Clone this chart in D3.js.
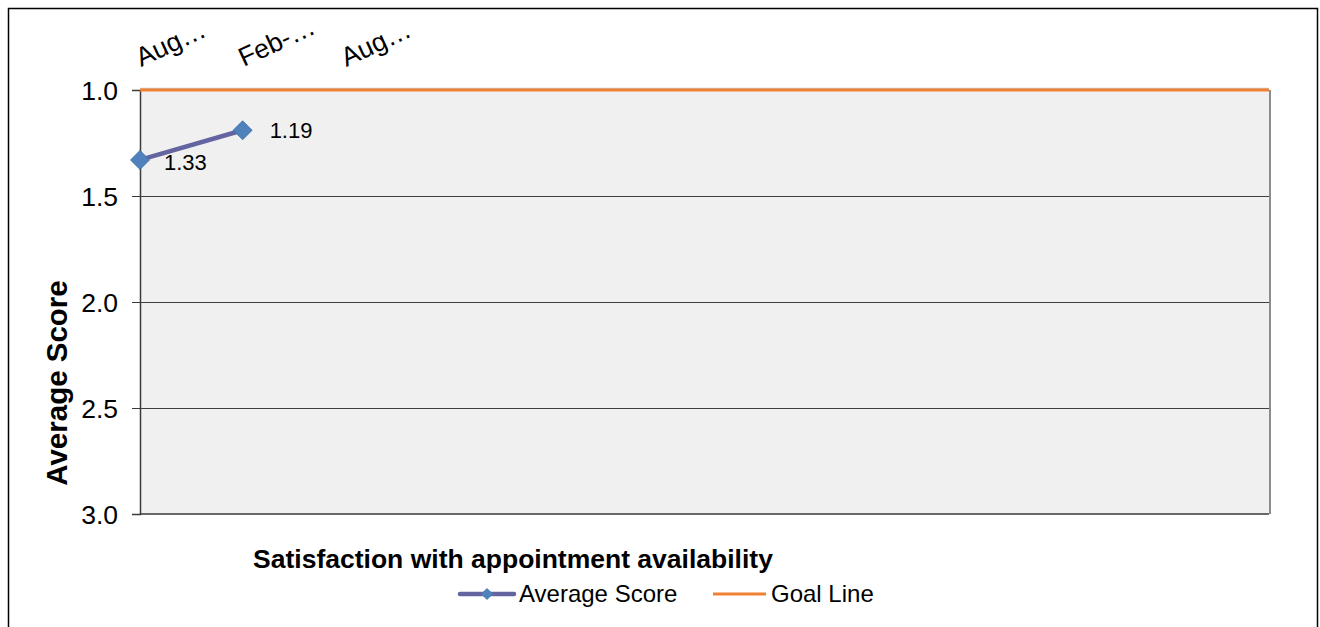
<!DOCTYPE html>
<html><head><meta charset="utf-8">
<script src="https://cdn.jsdelivr.net/npm/d3@7"></script>
<style>body{margin:0;background:#fff;font-family:"Liberation Sans",Arial,sans-serif}</style>
</head><body>
<svg id="c" width="1320" height="627" font-family="Liberation Sans, Arial, sans-serif"></svg>
<script>
const categories = ["Aug-2012","Feb-2013","Aug-2013","","","","","","","","",""];
const tickLabels = ["Aug…","Feb-…","Aug…","","","","","","","","",""];
const avgScore = [1.33, 1.19];
const goalLine = [1,1,1,1,1,1,1,1,1,1,1,1];
const yTicks = [1.0, 1.5, 2.0, 2.5, 3.0];

const svg = d3.select("#c");
svg.append("rect").attr("x",8.5).attr("y",8.5).attr("width",1309).attr("height",630)
  .attr("fill","#fff").attr("stroke","#000").attr("stroke-width",1.5);

const L=140, R=1269, T=90, B=514;
const x = d3.scalePoint().domain(d3.range(categories.length)).range([L,R]);
const y = d3.scaleLinear().domain([1,3]).range([T,B]);

svg.append("rect").attr("x",L).attr("y",T).attr("width",R-L).attr("height",B-T).attr("fill","#f0f0f0");
// right shadow
svg.append("line").attr("x1",R+1).attr("x2",R+1).attr("y1",T).attr("y2",B).attr("stroke","#8c8c8c").attr("stroke-width",2);
// gridlines
svg.append("g").selectAll("line").data(yTicks.slice(1,4)).join("line")
  .attr("x1",L).attr("x2",R).attr("y1",d=>y(d)+0.5).attr("y2",d=>y(d)+0.5).attr("stroke","#404040").attr("stroke-width",1);

// y axis
const yAxis = d3.axisLeft(y).tickValues(yTicks).tickFormat(d3.format(".1f")).tickSize(8).tickPadding(14);
const gy = svg.append("g").attr("transform",`translate(${L},0)`).call(yAxis);
gy.attr("font-family",null).attr("font-size",null);
gy.select(".domain").attr("stroke","#3a3a3a").attr("stroke-width",1.5);
gy.selectAll(".tick line").attr("stroke","#3a3a3a");
gy.selectAll("text").attr("font-size",26.5).attr("fill","#000").attr("dy","0.36em");
// bottom axis line
svg.append("line").attr("x1",L).attr("x2",R).attr("y1",B).attr("y2",B).attr("stroke","#3a3a3a").attr("stroke-width",1.5);

// top category labels
svg.append("g").selectAll("text").data(tickLabels).join("text")
  .attr("transform",(d,i)=>`translate(${x(i)+1},67) rotate(-25)`)
  .attr("font-size",26.5).attr("fill","#000").text(d=>d);

// goal line
svg.append("line").attr("x1",L).attr("x2",R).attr("y1",T-1.5).attr("y2",T-1.5).attr("stroke","#c8c8c8").attr("stroke-width",1.5);
svg.append("path").datum(goalLine)
  .attr("d",d3.line().x((d,i)=>x(i)).y(d=>y(d)))
  .attr("stroke","#F08132").attr("stroke-width",3).attr("fill","none");

// average score
svg.append("path").datum(avgScore)
  .attr("d",d3.line().x((d,i)=>x(i)).y(d=>y(d)))
  .attr("stroke","#6464A0").attr("stroke-width",4.5).attr("fill","none");
const diamond = d3.symbol().type(d3.symbolSquare).size(180);
svg.append("g").selectAll("path").data(avgScore).join("path")
  .attr("transform",(d,i)=>`translate(${x(i)},${y(d)}) rotate(45)`)
  .attr("d",diamond).attr("fill","#4F81BD").attr("stroke","#3f6fa8").attr("stroke-width",0.8);
// data labels
const labOff = [[24,10],[27,8]];
svg.append("g").selectAll("text").data(avgScore).join("text")
  .attr("x",(d,i)=>x(i)+labOff[i][0]).attr("y",(d,i)=>y(d)+labOff[i][1])
  .attr("font-size",22).attr("fill","#000").text(d=>d.toFixed(2));

// axis titles
svg.append("text").attr("transform","translate(67,383) rotate(-90)").attr("text-anchor","middle")
  .attr("font-size",29.5).attr("font-weight","bold").text("Average Score");
svg.append("text").attr("x",513).attr("y",568).attr("text-anchor","middle")
  .attr("font-size",26.5).attr("font-weight","bold").text("Satisfaction with appointment availability");

// legend
const lg = svg.append("g");
lg.append("line").attr("x1",460).attr("x2",514).attr("y1",594).attr("y2",594).attr("stroke","#6464A0").attr("stroke-width",4.5).attr("stroke-linecap","round");
lg.append("path").attr("transform","translate(487,594) rotate(45)").attr("d",d3.symbol().type(d3.symbolSquare).size(75)).attr("fill","#4F81BD");
lg.append("text").attr("x",519).attr("y",602).attr("font-size",24).text("Average Score");
lg.append("line").attr("x1",713).attr("x2",766).attr("y1",594).attr("y2",594).attr("stroke","#F08132").attr("stroke-width",3);
lg.append("text").attr("x",771).attr("y",602).attr("font-size",24).text("Goal Line");
</script>
</body></html>
